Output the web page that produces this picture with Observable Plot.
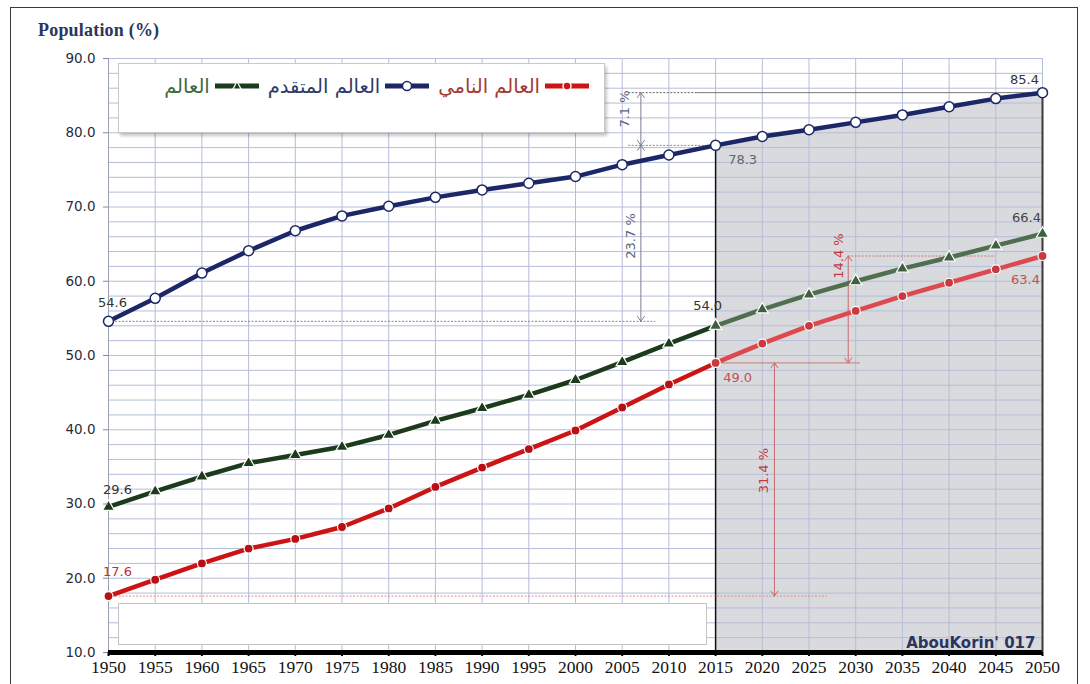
<!DOCTYPE html>
<html><head><meta charset="utf-8">
<script src="https://cdn.jsdelivr.net/npm/d3@7"></script>
<script src="https://cdn.jsdelivr.net/npm/@observablehq/plot@0.6"></script>
<style>
html,body{margin:0;padding:0;background:#fff}
body{width:1090px;height:684px;overflow:hidden;position:relative;font-family:"DejaVu Sans",sans-serif}
#frame{position:absolute;left:10px;top:7px;width:1068px;height:720px;border:1.5px solid #3a3a3a;box-sizing:border-box}
#chart{position:absolute;left:0;top:0}
#title{position:absolute;left:38px;top:20px;font-family:"Liberation Serif",serif;font-size:18px;font-weight:bold;color:#2a3560;letter-spacing:0.2px}
#legend{position:absolute;left:118px;top:63px;width:487px;height:70px;background:#fff;border:1px solid #c9c9c9;box-sizing:border-box;box-shadow:2px 3px 3px rgba(0,0,0,0.22);display:flex;flex-direction:row-reverse;align-items:center;justify-content:flex-start;padding:0 14px 24px 0}
.item{display:flex;flex-direction:row-reverse;align-items:center;margin-left:8px}
.item span{font-size:19.5px;margin-right:4px;white-space:nowrap}
#blank{position:absolute;left:118px;top:603px;width:589px;height:42px;background:#fff;border:1px solid #c4c4c4;box-sizing:border-box}
</style>
</head><body>
<div id="chart"></div>
<div id="frame"></div>
<div id="title">Population (%)</div>
<div id="legend"></div>
<div id="blank"></div>
<script>
// ---- data ----
const years = [1950,1955,1960,1965,1970,1975,1980,1985,1990,1995,2000,2005,2010,2015,2020,2025,2030,2035,2040,2045,2050];
const developed  = [54.6,57.7,61.1,64.1,66.8,68.8,70.1,71.3,72.3,73.2,74.1,75.7,77.0,78.3,79.5,80.4,81.4,82.4,83.5,84.6,85.4];
const world      = [29.6,31.7,33.7,35.5,36.6,37.7,39.3,41.2,42.9,44.7,46.7,49.1,51.6,54.0,56.2,58.2,60.0,61.7,63.2,64.8,66.4];
const developing = [17.6,19.8,22.0,24.0,25.3,26.9,29.4,32.3,34.9,37.4,39.9,43.0,46.1,49.0,51.6,54.0,56.0,58.0,59.8,61.6,63.4];
const seriesNames = ["العالم النامي", "العالم المتقدم", "العالم"];
const yTicks = [10,20,30,40,50,60,70,80,90];
const yMinor = [10,12,14,16,18,20,22,24,26,28,30,32,34,36,38,40,42,44,46,48,50,52,54,56,58,60,62,64,66,68,70,72,74,76,78,80,82,84,86,88,90];
const projectionStart = 2015;
const credit = "AbouKorin' 017";

// ---- colours ----
const cBlue = "#1b2766", cGreen = "#1c3a1c", cRed = "#cc1414";
const cGreenP = "#4f6f4f", cRedP = "#dc4a4f";

const rows = years.map((year, i) => ({year, developed: developed[i], world: world[i], developing: developing[i]}));
const hist = rows.filter(d => d.year <= projectionStart);
const proj = rows.filter(d => d.year >= projectionStart);
const at = (arr, yr) => arr[years.indexOf(yr)];
const y0 = years[0], yN = years[years.length - 1];
const pct = (a, b) => (Math.round((a - b) * 10) / 10).toFixed(1) + " %";

// annotation values derived from the data
const d50 = at(developed, y0), d15 = at(developed, 2015), dN = at(developed, yN);
const g50 = at(world, y0), g15 = at(world, 2015), gN = at(world, yN);
const r50 = at(developing, y0), r15 = at(developing, 2015), rN = at(developing, yN);

function dblArrow(x, a, b, stroke) {
  const m = (a + b) / 2;
  return Plot.arrow([{x, a, b, m}, {x, a: b, b: a, m}], {
    x1: "x", x2: "x", y1: "m", y2: "a", stroke, strokeWidth: 1, headLength: 9, headAngle: 70
  });
}

const font = "DejaVu Sans";
const lbl = (x, y, text, dx, dy, fill) =>
  Plot.text([{x, y, text}], {x: "x", y: "y", text: "text", dx, dy, fill, fontSize: 13, fontFamily: font});
const rlbl = (x, y, text, fill) =>
  Plot.text([{x, y, text}], {x: "x", y: "y", text: "text", rotate: -90, fill, fontSize: 13, fontFamily: font});

const plot = Plot.plot({
  width: 1090, height: 684,
  marginLeft: 108, marginRight: 48, marginTop: 58, marginBottom: 32,
  x: {domain: [y0, yN]},
  y: {domain: [10, 90]},
  style: {background: "transparent", fontFamily: font, color: "#2b2b2b"},
  marks: [
    Plot.areaY(proj, {x: "year", y1: 10, y2: "developed", fill: "#d9dade"}),
    Plot.ruleY(yMinor, {stroke: "#b6bdd8", strokeWidth: 1}),
    Plot.ruleX(years, {stroke: "#b6bdd8", strokeWidth: 1}),
    Plot.ruleX([y0], {stroke: "#9aa0b5", strokeWidth: 1}),
    Plot.ruleX([yN], {y1: 10, y2: dN, stroke: "#3a3a3a", strokeWidth: 2}),
    Plot.ruleX([projectionStart], {y1: 10, y2: d15, stroke: "#111", strokeWidth: 1.5}),

    // blue annotations
    Plot.ruleY([d50], {x1: y0, x2: 2008.6, stroke: "#7d86b3", strokeDasharray: "2,1.5"}),
    Plot.ruleY([d15], {x1: 2005.7, x2: projectionStart, stroke: "#888", strokeDasharray: "2,1.5"}),
    Plot.ruleY([dN], {x1: 2005.7, x2: 2013, stroke: "#666", strokeDasharray: "2,1.5"}),
    Plot.ruleY([dN], {x1: 2013, x2: yN, stroke: "#777", strokeWidth: 1}),
    dblArrow(2007, d15, dN, "#7a7f92"),
    dblArrow(2007, d50, d15, "#7a7f92"),
    rlbl(2005.3, 83.2, pct(dN, d15), "#5a6585"),
    rlbl(2005.9, 66.1, pct(d15, d50), "#5a6585"),

    // red annotations
    Plot.ruleY([r50], {x1: y0, x2: 2027, stroke: "#d99090", strokeDasharray: "2,1.5"}),
    Plot.ruleY([r15], {x1: projectionStart, x2: 2030.5, stroke: "#c87878", strokeWidth: 1}),
    Plot.ruleY([rN], {x1: 2029.2, x2: 2045, stroke: "#c87878", strokeDasharray: "2,1.5"}),
    dblArrow(2021.3, r50, r15, "#c96a6a"),
    dblArrow(2029.2, r15, rN, "#c96a6a"),
    rlbl(2020.2, 34.5, pct(r15, r50), "#c23a3a"),
    rlbl(2028.2, 63.4, pct(rN, r15), "#c23a3a"),

    // series: green (world)
    Plot.line(hist, {x: "year", y: "world", stroke: cGreen, strokeWidth: 4.5}),
    Plot.line(proj, {x: "year", y: "world", stroke: cGreenP, strokeWidth: 4.5}),
    Plot.dot(hist, {x: "year", y: "world", symbol: "triangle", r: 4.5, fill: cGreen, stroke: "white", strokeWidth: 1.2}),
    Plot.dot(proj, {x: "year", y: "world", symbol: "triangle", r: 4.5, fill: "#3f5f3f", stroke: "white", strokeWidth: 1.2}),
    // red (developing)
    Plot.line(hist, {x: "year", y: "developing", stroke: cRed, strokeWidth: 4.5}),
    Plot.line(proj, {x: "year", y: "developing", stroke: cRedP, strokeWidth: 4.5}),
    Plot.dot(hist, {x: "year", y: "developing", r: 4.5, fill: "#b80f14", stroke: "white", strokeWidth: 1.2}),
    Plot.dot(proj, {x: "year", y: "developing", r: 4.5, fill: "#c73a40", stroke: "white", strokeWidth: 1.2}),
    // blue (developed)
    Plot.line(rows, {x: "year", y: "developed", stroke: cBlue, strokeWidth: 4.5}),
    Plot.dot(rows, {x: "year", y: "developed", r: 5, fill: "white", stroke: cBlue, strokeWidth: 1.5}),

    // value labels
    lbl(y0, d50, d50.toFixed(1), 4, -19, "#333"),
    lbl(projectionStart, d15, d15.toFixed(1), 27, 14, "#666"),
    lbl(yN, dN, dN.toFixed(1), -18, -13, "#333"),
    lbl(y0, g50, g50.toFixed(1), 9, -17, "#333"),
    lbl(projectionStart, g15, g15.toFixed(1), -8, -20, "#333"),
    lbl(yN, gN, gN.toFixed(1), -16, -16, "#444"),
    lbl(y0, r50, r50.toFixed(1), 9, -24, "#c0302f"),
    lbl(projectionStart, r15, r15.toFixed(1), 22, 15, "#c25050"),
    lbl(yN, rN, rN.toFixed(1), -17, 24, "#c25050"),

    // axes
    Plot.axisY({ticks: yTicks, tickFormat: d => d.toFixed(1), tickSize: 5, tickPadding: 8, stroke: "#888", fontSize: 13.5, fontFamily: font, fill: "#2b2b3b", label: null}),
    Plot.ruleY([10], {stroke: "#000", strokeWidth: 5}),
    Plot.axisX({ticks: years, tickFormat: d => String(d), tickSize: 4, strokeWidth: 2, stroke: "#000", tickPadding: 4, fill: "#111", label: null}),

    Plot.text([credit], {frameAnchor: "bottom-right", dx: -7, dy: -5, fontSize: 15, fontWeight: "bold", fill: "#2a3560", fontFamily: font, textAnchor: "end", lineAnchor: "bottom"})
  ]
});
document.getElementById("chart").appendChild(plot);
// x tick labels: serif face at the reference size (set directly on the text nodes)
const yearSet = new Set(years.map(String));
d3.select(plot).selectAll("text")
  .filter(function() { return yearSet.has(this.textContent.trim()); })
  .style("font-size", "17.5px")
  .style("font-family", "'Liberation Serif', serif");

// legend (right-to-left)
const legendItems = [
  {name: seriesNames[0], line: cRed, text: "#a33a34", marker: "dot"},
  {name: seriesNames[1], line: cBlue, text: "#2e3a6a", marker: "circle"},
  {name: seriesNames[2], line: cGreen, text: "#3d6a3d", marker: "triangle"}
];
const leg = d3.select("#legend");
for (const it of legendItems) {
  const item = leg.append("div").attr("class", "item");
  const s = item.append("svg").attr("width", 46).attr("height", 14);
  s.append("line").attr("x1", 1).attr("x2", 45).attr("y1", 7).attr("y2", 7).attr("stroke", it.line).attr("stroke-width", 5);
  if (it.marker === "dot") s.append("circle").attr("cx", 23).attr("cy", 7).attr("r", 4).attr("fill", it.line).attr("stroke", "white").attr("stroke-width", 1.5);
  if (it.marker === "circle") s.append("circle").attr("cx", 23).attr("cy", 7).attr("r", 4.5).attr("fill", "white").attr("stroke", it.line).attr("stroke-width", 1.5);
  if (it.marker === "triangle") s.append("path").attr("d", "M23,2.5L27,10L19,10Z").attr("fill", it.line).attr("stroke", "white").attr("stroke-width", 1.2);
  item.append("span").attr("dir", "rtl").style("color", it.text).text(it.name);
}
</script>
</body></html>
